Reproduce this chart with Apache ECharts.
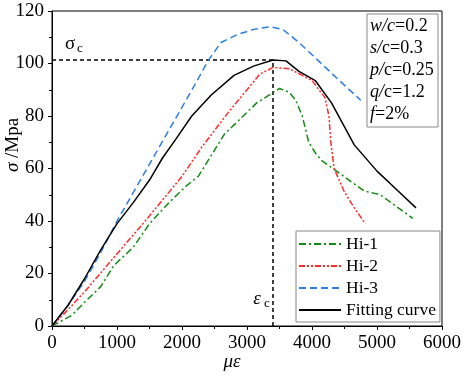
<!DOCTYPE html>
<html>
<head>
<meta charset="utf-8">
<script src="https://cdn.jsdelivr.net/npm/echarts@6/dist/echarts.min.js"></script>
<style>
  html, body { margin: 0; padding: 0; background: #fff; }
  #chart { width: 464px; height: 377px; }
</style>
</head>
<body>
<div id="chart"></div>
<script>
// stress-strain data (strain in με, stress in MPa)
var hi1X = [0, 150, 300, 500, 750, 950, 1250, 1500, 1800, 2050, 2250, 2400, 2650, 2900, 3150, 3500, 3650, 3750, 3850, 3950, 4050, 4150, 4350, 4600, 4800, 5050, 5300, 5550];
var hi1Y = [0, 2, 4, 9, 15, 23, 30, 39, 47, 53, 57, 63, 73, 79, 85, 90.5, 89, 86, 80, 70, 66, 63, 59.5, 55, 51.5, 50, 45.5, 41];

var hi2X = [0, 200, 500, 1000, 1400, 1800, 2000, 2300, 2700, 3000, 3200, 3400, 3650, 3850, 4000, 4200, 4260, 4290, 4340, 4500, 4650, 4820];
var hi2Y = [0, 5, 13, 27.5, 39, 51, 57, 68, 81, 90, 96, 98.5, 98, 95.5, 93.5, 87, 80, 70, 60, 51, 45, 39];

var hi3X = [0, 250, 500, 750, 1000, 1300, 1600, 1900, 2200, 2400, 2600, 2850, 3100, 3350, 3550, 3800, 4100, 4400, 4750];
var hi3Y = [0, 8, 17, 28, 40, 53, 66, 79, 92, 101, 108, 111, 113, 114, 113, 108, 101, 94, 86];

var fitX = [0, 250, 500, 750, 1000, 1250, 1500, 1700, 1900, 2150, 2450, 2800, 3100, 3400, 3600, 3800, 4050, 4300, 4650, 5000, 5300, 5600];
var fitY = [0, 8, 18, 29, 39, 47, 55.6, 64, 71, 80, 88, 95.5, 99, 101.3, 101, 97, 93.5, 85, 69, 59, 52, 45];

// peak point of the fitting curve
var peakX = 3400;
var peakY = 101.3;

var seriesNames = ['Hi-1', 'Hi-2', 'Hi-3', 'Fitting curve'];
var params = ['w/c=0.2', 's/c=0.3', 'p/c=0.25', 'q/c=1.2', 'f=2%'];

function zip(xs, ys) {
  var out = [];
  for (var i = 0; i < xs.length; i++) out.push([xs[i], ys[i]]);
  return out;
}

var FONT = 'Liberation Serif';

var chart = echarts.init(document.getElementById('chart'));

function lineSeries(name, xs, ys, color, dash) {
  return {
    name: name,
    type: 'line',
    data: zip(xs, ys),
    symbol: 'none',
    smooth: false,
    lineStyle: { color: color, width: 1.5, type: dash },
    itemStyle: { color: color },
    z: 3
  };
}

// parameter box text lines, first part italic
var paramTexts = [];
var italicParts = ['w/c', 's/', 'p/', 'q/', 'f'];
for (var i = 0; i < params.length; i++) {
  var ip = italicParts[i];
  var rest = params[i].slice(ip.length);
  paramTexts.push({
    type: 'text',
    left: 370,
    top: 17 + i * 22,
    style: {
      text: '{i|' + ip + '}{n|' + rest + '}',
      rich: {
        i: { fontStyle: 'italic', fontSize: 18, fontFamily: FONT, fill: '#000' },
        n: { fontSize: 18, fontFamily: FONT, fill: '#000' }
      }
    },
    z: 11
  });
}

var option = {
  animation: false,
  backgroundColor: '#fff',
  textStyle: { fontFamily: FONT },
  grid: {
    left: 52, right: 21, top: 11, bottom: 51,
    show: true, borderColor: '#000', borderWidth: 1
  },
  legend: {
    data: seriesNames,
    orient: 'vertical',
    left: 296,
    top: 231,
    itemWidth: 42,
    itemHeight: 14,
    itemGap: 4,
    padding: [4, 4, 3, 2],
    borderColor: '#888',
    borderWidth: 1,
    backgroundColor: '#fff',
    itemStyle: { opacity: 0 },
    textStyle: { fontFamily: FONT, fontSize: 17.5, color: '#000', lineHeight: 18 }
  },
  xAxis: {
    type: 'value',
    min: 0, max: 6000, interval: 1000,
    axisLine: { lineStyle: { color: '#000', width: 1 } },
    axisTick: { length: 4, lineStyle: { color: '#000' } },
    minorTick: { show: true, splitNumber: 2, length: 3, lineStyle: { color: '#000' } },
    splitLine: { show: false },
    axisLabel: {
      color: '#000', fontFamily: FONT, fontSize: 19, margin: 8,
      formatter: function (v) { return String(v); }
    }
  },
  yAxis: {
    type: 'value',
    min: 0, max: 120, interval: 20,
    axisLine: { show: true, lineStyle: { color: '#000', width: 1 } },
    axisTick: { show: true, length: 4, lineStyle: { color: '#000' } },
    minorTick: { show: true, splitNumber: 2, length: 3, lineStyle: { color: '#000' } },
    splitLine: { show: false },
    axisLabel: { color: '#000', fontFamily: FONT, fontSize: 19, margin: 8 }
  },
  series: [
    lineSeries('Hi-1', hi1X, hi1Y, '#138a13', [7, 3, 2, 3]),
    lineSeries('Hi-2', hi2X, hi2Y, '#ff2a2a', [6, 2, 2, 2, 2, 2]),
    lineSeries('Hi-3', hi3X, hi3Y, '#2b7de3', [7, 4]),
    lineSeries('Fitting curve', fitX, fitY, '#000000', 'solid'),
    {
      name: 'peak-h',
      type: 'line',
      data: [[0, peakY], [peakX, peakY]],
      symbol: 'none',
      lineStyle: { color: '#000', width: 1.5, type: [4, 3] },
      z: 2
    },
    {
      name: 'peak-v',
      type: 'line',
      data: [[peakX, 0], [peakX, peakY]],
      symbol: 'none',
      lineStyle: { color: '#000', width: 1.5, type: [4, 3] },
      z: 2
    }
  ],
  graphic: [
    {
      type: 'text',
      x: 13, y: 145,
      rotation: Math.PI / 2,
      style: {
        text: '{i|σ} /Mpa',
        align: 'center', verticalAlign: 'middle',
        rich: {
          i: { fontStyle: 'italic', fontSize: 19, fontFamily: FONT, fill: '#000' }
        },
        fontSize: 19, fontFamily: FONT, fill: '#000'
      }
    },
    {
      type: 'text',
      x: 232, y: 362,
      style: {
        text: 'με', align: 'center', verticalAlign: 'middle',
        fontStyle: 'italic', fontSize: 19, fontFamily: FONT, fill: '#000'
      }
    },
    {
      type: 'text', x: 70, y: 44,
      style: { text: 'σ', align: 'center', verticalAlign: 'middle', fontSize: 19, fontFamily: FONT, fill: '#000' }
    },
    {
      type: 'text', x: 80, y: 49,
      style: { text: 'c', align: 'center', verticalAlign: 'middle', fontSize: 13, fontFamily: FONT, fill: '#000' }
    },
    {
      type: 'text', x: 257, y: 299,
      style: { text: 'ε', align: 'center', verticalAlign: 'middle', fontStyle: 'italic', fontSize: 19, fontFamily: FONT, fill: '#000' }
    },
    {
      type: 'text', x: 267, y: 304,
      style: { text: 'c', align: 'center', verticalAlign: 'middle', fontSize: 13, fontFamily: FONT, fill: '#000' }
    },
    {
      type: 'rect',
      shape: { x: 367, y: 14, width: 71, height: 113 },
      style: { fill: '#fff', stroke: '#888', lineWidth: 1 },
      z: 10
    }
  ].concat(paramTexts)
};

chart.setOption(option);
</script>
</body>
</html>
